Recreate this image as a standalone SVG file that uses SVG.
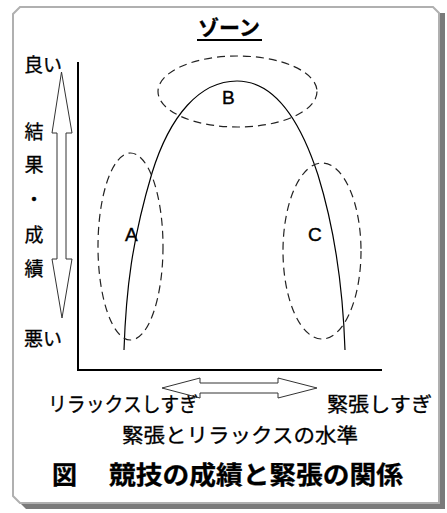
<svg xmlns="http://www.w3.org/2000/svg" width="447" height="513" viewBox="0 0 447 513">
<style>
.jp{font-family:"Noto Sans CJK JP","Noto Sans",sans-serif;fill:#000;stroke:#000;stroke-width:0.3}
.lt{font-family:"Liberation Sans",Arial,sans-serif;fill:#000;font-size:19px;stroke:#000;stroke-width:0.4}
.dash{fill:none;stroke:#222;stroke-width:1.2;stroke-dasharray:8,5}
.arr{fill:#fff;stroke:#333;stroke-width:1}
.axis{stroke:#000;stroke-width:2;fill:none}
</style>
<g id="frame">
<polygon points="26,13 445,13 445,509 26,509 19,502 19,20" fill="#7a7a7a"/>
<polygon points="20,7 433,7 439,13 439,503 20,503 13,496 13,14" fill="#fff" stroke="#b0b0b0" stroke-width="2"/>
</g>
<g id="title">
<text class="jp" x="229" y="35" font-size="21" font-weight="bold" text-anchor="middle">ゾーン</text>
<line x1="197" y1="40" x2="262" y2="40" stroke="#000" stroke-width="2"/>
</g>
<g id="axes">
<line class="axis" x1="78" y1="62" x2="78" y2="371"/>
<line class="axis" x1="77" y1="370" x2="382" y2="370"/>
</g>
<g id="y-labels">
<text class="jp" x="24" y="72" font-size="19">良い</text>
<text class="jp" x="34" y="139" font-size="19" text-anchor="middle">結</text>
<text class="jp" x="34" y="172" font-size="19" text-anchor="middle">果</text>
<text class="jp" x="34" y="207" font-size="19" text-anchor="middle">・</text>
<text class="jp" x="34" y="242" font-size="19" text-anchor="middle">成</text>
<text class="jp" x="34" y="276" font-size="19" text-anchor="middle">績</text>
<text class="jp" x="24" y="346" font-size="19">悪い</text>
</g>
<g id="connectors">
<polygon class="arr" points="61.5,72 72,133 66,133 66,259 72,259 62,318 52,259 57,259 57,133 52,133"/>
<polygon class="arr" points="162,388 200,378 200,383 278,383 278,378 317,388 278,398 278,393 200,393 200,398"/>
<path d="M124,350 C126,290 132,240 152,173 C170,115 200,81 237,81 C275,81 300,120 318,175 C335,230 343,290 345,350" fill="none" stroke="#000" stroke-width="1.2"/>
</g>
<g id="zone-B">
<ellipse class="dash" cx="237.5" cy="91.5" rx="79.5" ry="35.5"/>
<text class="lt" x="222" y="104">B</text>
</g>
<g id="zone-A">
<ellipse class="dash" cx="130.5" cy="246.5" rx="32.5" ry="93.5"/>
<text class="lt" x="125" y="241">A</text>
</g>
<g id="zone-C">
<ellipse class="dash" cx="322" cy="251" rx="39" ry="88"/>
<text class="lt" x="308" y="241">C</text>
</g>
<g id="x-labels">
<text class="jp" x="48" y="412" font-size="20" textLength="150" lengthAdjust="spacingAndGlyphs">リラックスしすぎ</text>
<text class="jp" x="327" y="412" font-size="20" textLength="105" lengthAdjust="spacingAndGlyphs">緊張しすぎ</text>
<text class="jp" x="122" y="443" font-size="20" textLength="236" lengthAdjust="spacingAndGlyphs">緊張とリラックスの水準</text>
</g>
<g id="caption">
<text class="jp" y="484" font-size="25" font-weight="bold"><tspan x="52">図　</tspan><tspan x="109" textLength="294" lengthAdjust="spacingAndGlyphs">競技の成績と緊張の関係</tspan></text>
</g>
</svg>
